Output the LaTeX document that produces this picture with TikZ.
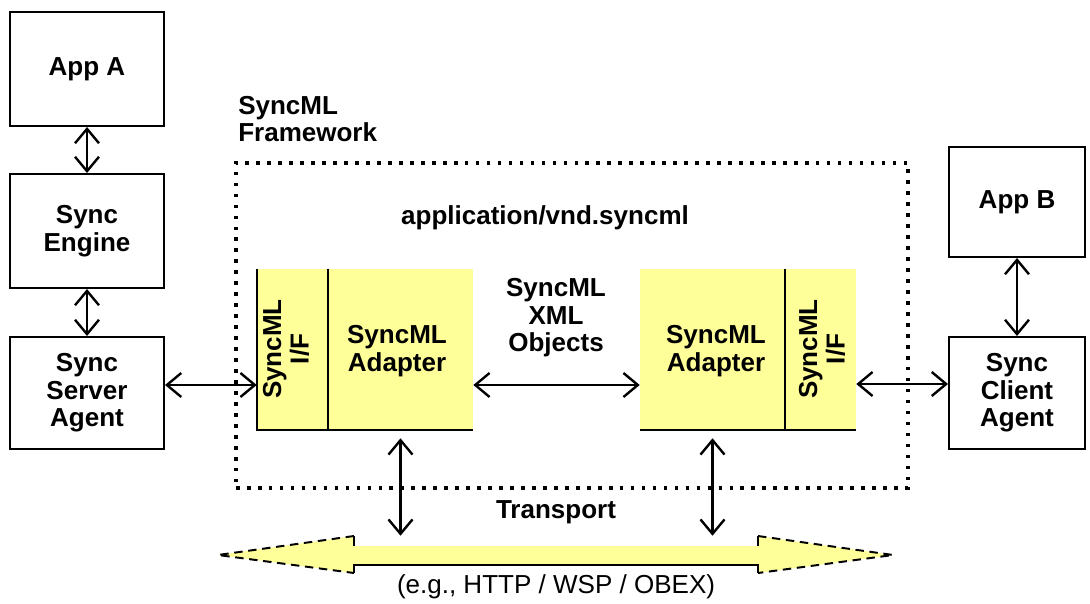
\documentclass[tikz,border=0pt]{standalone}
\usepackage{fontspec}
\setmainfont{Liberation Sans}
\usetikzlibrary{arrows.meta,positioning}
\definecolor{syncyellow}{RGB}{255,255,153}

\begin{document}
\begin{tikzpicture}[
    x=0.025cm, y=-0.025cm,
    font=\fontsize{18.5}{19.5}\selectfont\bfseries,
    box/.style={shape=rectangle, draw, line width=1.4pt, align=center, minimum width=3.85cm, minimum height=2.85cm},
    block/.style={shape=rectangle, fill=syncyellow, inner sep=0pt, minimum height=4.025cm},
    txt/.style={align=center, inner sep=0pt},
    frame/.style={draw, line width=2.6pt, dash pattern=on 2.6pt off 5.2pt, inner sep=0pt},
    dbl/.style={{Straight Barb[length=0.36cm,width=0.6cm]}-{Straight Barb[length=0.36cm,width=0.6cm]}, line width=1.7pt}
]
    \useasboundingbox (0,0) rectangle (1090,604);

    % Server side
    \node[box] (AppA) at (87,69) {App A};
    \node[box] (Engine) at (87,231) {Sync\\Engine};
    \node[box, minimum height=2.8cm] (SrvAgent) at (87,393) {Sync\\Server\\Agent};

    % Client side
    \node[box, minimum width=3.4cm, minimum height=2.75cm] (AppB) at (1017,202) {App B};
    \node[box, minimum width=3.4cm, minimum height=2.8cm] (CliAgent) at (1017,393) {Sync\\Client\\Agent};

    % Framework
    \node[frame, minimum width=16.8cm, minimum height=8.125cm] (Frame) at (572,325.5) {};
    \node[txt, anchor=west, align=left] (FrameLbl) at (238,119) {SyncML\\Framework};
    \node[txt] (Mime) at (545,218) {application/vnd.syncml};
    \node[txt] (XmlObj) at (556,318) {SyncML\\XML\\Objects};

    % Adapters
    \node[block, minimum width=1.775cm] (IfL) at (292.5,349.5) {};
    \node[block, minimum width=3.625cm] (AdL) at (400.5,349.5) {};
    \node[block, minimum width=3.625cm] (AdR) at (712.5,349.5) {};
    \node[block, minimum width=1.775cm] (IfR) at (820.5,349.5) {};
    \draw[line width=1.3pt] (IfL.north west) -- (IfL.south west) -- (AdL.south east);
    \draw[line width=1.3pt] (IfL.north east) -- (IfL.south east);
    \draw[line width=1.3pt] (AdR.south west) -- (IfR.south east);
    \draw[line width=1.3pt] (IfR.north west) -- (IfR.south west);
    \node[txt, rotate=90] (IfLTxt) at (286,349) {SyncML\\I/F};
    \node[txt, rotate=90] (IfRTxt) at (822,349) {SyncML\\I/F};
    \node[txt] (AdLTxt) at (397,351) {SyncML\\Adapter};
    \node[txt] (AdRTxt) at (716,351) {SyncML\\Adapter};

    % Transport
    \node[inner sep=0pt, minimum width=16.875cm, minimum height=0.925cm] (Bus) at (555.5,554.5) {};
    \fill[syncyellow] (218,555) -- (354,536) -- (354,546) -- (758,546) -- (758,536) -- (893,555)
        -- (758,573) -- (758,565) -- (354,565) -- (354,573) -- cycle;
    \draw[line width=1.4pt, dash pattern=on 6pt off 4pt] (354,536) -- (218,555) -- (354,573);
    \draw[line width=1.4pt, dash pattern=on 6pt off 4pt] (758,536) -- (893,555) -- (758,573);
    \draw[line width=1.4pt] (354,536) -- (354,546) (354,573) -- (354,565) -- (758,565) -- (758,573)
        (758,546) -- (758,536);
    \node[txt] (TransLbl) at (556,512) {Transport};
    \node[txt, font=\fontsize{18.5}{19.5}\selectfont] (ProtoLbl) at (556,587) {(e.g., HTTP / WSP / OBEX)};

    % Connections
    \draw[dbl] (AppA) -- (Engine);
    \draw[dbl] (Engine) -- (SrvAgent);
    \draw[dbl] (AppB) -- (CliAgent);
    \draw[dbl] (SrvAgent.east |- 0,385) -- (IfL.west |- 0,385);
    \draw[dbl] (AdL.east |- 0,385) -- (AdR.west |- 0,385);
    \draw[dbl] (IfR.east |- 0,384) -- (CliAgent.west |- 0,384);
    \draw[dbl, shorten <=0.2cm] (AdL.south) -- (AdL.south |- Bus.north);
    \draw[dbl, shorten <=0.2cm] (AdR.south) -- (AdR.south |- Bus.north);

\end{tikzpicture}
\end{document}
